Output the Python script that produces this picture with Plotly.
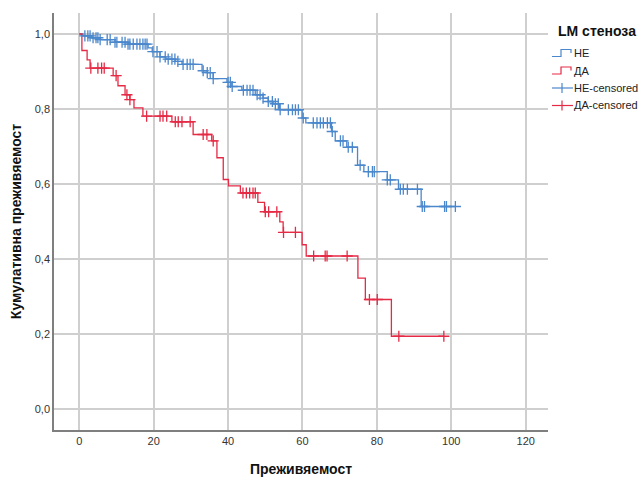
import numpy as np
import plotly.graph_objects as go

# Kaplan-Meier estimates by LM stenosis group (time in months)
ne_event_t = [0, 1.0, 3.4, 5.6, 9.6, 13.1, 18.5, 19.6, 21.7, 23.3, 25.8, 27.6, 33.0, 34.4,
              36.0, 39.7, 41.0, 43.7, 47.3, 49.4, 50.8, 52.1, 53.8, 59.9, 60.9, 67.8,
              68.8, 71.9, 74.8, 76.5, 82.8, 85.8, 91.9]
ne_surv = [1.0, 0.995, 0.990, 0.985, 0.978, 0.973, 0.963, 0.953, 0.939, 0.933, 0.927, 0.919,
           0.902, 0.897, 0.881, 0.871, 0.860, 0.850, 0.838, 0.829, 0.820, 0.814, 0.798,
           0.776, 0.763, 0.740, 0.715, 0.698, 0.650, 0.633, 0.611, 0.586, 0.540]
ne_censored_t = [1.5, 2.3, 2.9, 3.7, 4.5, 5.0, 5.6, 7.5, 8.3, 9.6, 10.1, 11.5, 12.3, 13.1,
                 13.6, 14.5, 15.5, 16.3, 17.1, 17.7, 18.2, 19.8, 20.9, 21.7, 23.1, 23.9,
                 24.9, 25.7, 26.5, 27.9, 29.0, 29.8, 30.6, 33.3, 34.4, 35.2, 36.0, 40.0,
                 40.6, 41.1, 44.1, 45.1, 45.9, 46.7, 47.8, 48.6, 49.4, 50.8, 51.9, 52.7,
                 53.5, 54.0, 56.2, 57.3, 58.1, 58.9, 60.2, 62.9, 63.9, 64.8, 65.6, 66.7,
                 67.5, 68.0, 70.2, 70.9, 72.3, 73.4, 75.5, 77.7, 78.8, 79.3, 82.8, 83.6,
                 86.3, 87.1, 88.2, 90.9, 92.2, 92.8, 98.2, 98.7, 101.1]

da_event_t = [0, 0.7, 2.1, 2.9, 9.1, 10.4, 12.3, 13.6, 14.7, 17.1, 24.9, 30.6, 35.6, 37.0,
              38.7, 40.1, 43.3, 48.0, 49.8, 53.9, 54.8, 59.9, 61.0, 74.9, 76.9, 83.9]
da_surv = [1.0, 0.956, 0.931, 0.909, 0.889, 0.862, 0.838, 0.825, 0.803, 0.781, 0.766, 0.732,
           0.715, 0.670, 0.612, 0.595, 0.576, 0.551, 0.526, 0.499, 0.471, 0.438, 0.408,
           0.349, 0.292, 0.194]
da_censored_t = [3.1, 5.0, 6.0, 6.7, 9.9, 12.8, 13.6, 18.1, 21.7, 22.5, 23.5, 25.8, 26.6,
                 27.6, 29.8, 33.3, 34.3, 36.0, 44.0, 44.9, 45.8, 46.7, 47.3, 50.0, 50.9,
                 53.1, 54.9, 58.1, 63.0, 66.1, 66.6, 72.0, 78.0, 80.1, 85.9, 98.0]

x_ticks = [0, 20, 40, 60, 80, 100, 120]
y_ticks = [0.0, 0.2, 0.4, 0.6, 0.8, 1.0]

legend_title = "LM стеноза"
legend_labels = ["НЕ", "ДА", "НЕ-censored", "ДА-censored"]

BLUE = "#4a87cc"
RED = "#e52a45"
FONT = "Liberation Sans, Arial, sans-serif"

W, H = 642, 481
M_L, M_R, M_T, M_B = 54, 94, 13, 51
PLOT_W = W - M_L - M_R
PLOT_H = H - M_T - M_B


def step_curve(times, surv, censored):
    """Extend the step function to the last follow-up time."""
    end = max(censored[-1], times[-1])
    return list(times) + [end], list(surv) + [surv[-1]]


def level_at(times, surv, t):
    idx = np.searchsorted(np.asarray(times), t, side="right") - 1
    return surv[idx]


def px(x, y):
    """Pixel position on the page -> paper coordinates."""
    return (x - M_L) / PLOT_W, (H - M_B - y) / PLOT_H


fig = go.Figure()

groups = [
    ("НЕ", ne_event_t, ne_surv, ne_censored_t, BLUE),
    ("ДА", da_event_t, da_surv, da_censored_t, RED),
]

for name, t, s, c, col in groups:
    x, y = step_curve(t, s, c)
    fig.add_trace(go.Scatter(
        x=x, y=y, mode="lines", name=name, line=dict(color=col, width=1.3, shape="hv"),
    ))

for name, t, s, c, col in groups:
    cy = [level_at(t, s, ct) for ct in c]
    fig.add_trace(go.Scatter(
        x=c, y=cy, mode="markers", name=name + "-censored",
        marker=dict(symbol="cross-thin", size=8, line=dict(color=col, width=1.3)),
    ))

# Hand-drawn legend at the right of the plot area
shapes = []
annotations = []

tx, ty = px(556, 31)
annotations.append(dict(
    x=tx, y=ty, xref="paper", yref="paper", xanchor="left", yanchor="middle",
    text="<b>" + legend_title + "</b>", showarrow=False,
    font=dict(family=FONT, size=14, color="#111111"),
))

item_y = [53, 70.5, 88, 105.5]
item_col = [BLUE, RED, BLUE, RED]
for i, (label, yc, col) in enumerate(zip(legend_labels, item_y, item_col)):
    if i < 2:
        pts = [(552, yc + 3.5), (561, yc + 3.5), (561, yc - 3.5), (571, yc - 3.5), (571, yc)]
        path = "M " + " L ".join("{:.5f},{:.5f}".format(*px(a, b)) for a, b in pts)
        shapes.append(dict(type="path", xref="paper", yref="paper", path=path,
                           line=dict(color=col, width=1.2)))
    else:
        x0, y0 = px(552, yc)
        x1, _ = px(573, yc)
        shapes.append(dict(type="line", xref="paper", yref="paper",
                           x0=x0, x1=x1, y0=y0, y1=y0, line=dict(color=col, width=1.2)))
        xm, ya = px(562, yc - 5)
        _, yb = px(562, yc + 5)
        shapes.append(dict(type="line", xref="paper", yref="paper",
                           x0=xm, x1=xm, y0=ya, y1=yb, line=dict(color=col, width=1.2)))
    lx, ly = px(572, yc)
    annotations.append(dict(
        x=lx, y=ly, xref="paper", yref="paper", xanchor="left", yanchor="middle",
        text=label, showarrow=False, font=dict(family=FONT, size=11, color="#222222"),
    ))

axis_common = dict(
    showgrid=True, gridcolor="#cfcfcf", gridwidth=1.5,
    showline=True, linecolor="#7f7f7f", linewidth=1.5,
    zeroline=False, ticks="",
    tickfont=dict(family=FONT, size=11, color="#333333"),
)

fig.update_xaxes(
    **axis_common, range=[-6.8, 126], tickvals=x_ticks,
    title=dict(text="<b>Преживяемост</b>", standoff=18,
               font=dict(family=FONT, size=14, color="#111111")),
)
fig.update_yaxes(
    **axis_common, range=[-0.056, 1.056], tickvals=y_ticks, tickformat=".1f",
    title=dict(text="<b>Кумулативна преживяемост</b>", standoff=10,
               font=dict(family=FONT, size=14, color="#111111")),
)

fig.update_layout(
    width=W, height=H,
    margin=dict(l=M_L, r=M_R, t=M_T, b=M_B, autoexpand=False),
    plot_bgcolor="white", paper_bgcolor="white",
    separators=", ",
    font=dict(family=FONT, color="#222222"),
    showlegend=False,
    shapes=shapes,
    annotations=annotations,
)

fig.write_html("out.html")
